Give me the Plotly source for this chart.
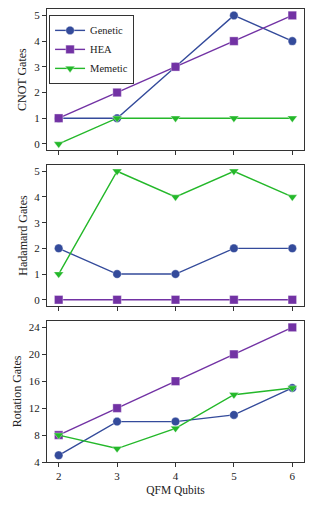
import plotly.graph_objects as go
from plotly.subplots import make_subplots

qubits = [2, 3, 4, 5, 6]
series_names = ["Genetic", "HEA", "Memetic"]

cnot_genetic = [1, 1, 3, 5, 4]
cnot_hea = [1, 2, 3, 4, 5]
cnot_memetic = [0, 1, 1, 1, 1]

had_genetic = [2, 1, 1, 2, 2]
had_hea = [0, 0, 0, 0, 0]
had_memetic = [1, 5, 4, 5, 4]

rot_genetic = [5, 10, 10, 11, 15]
rot_hea = [8, 12, 16, 20, 24]
rot_memetic = [8, 6, 9, 14, 15]

panel_titles = ["CNOT Gates", "Hadamard Gates", "Rotation Gates"]
x_title = "QFM Qubits"

colors = {"Genetic": "#344b9b", "HEA": "#7232a4", "Memetic": "#24b82a"}
symbols = {"Genetic": "circle", "HEA": "square", "Memetic": "triangle-down"}

data = [
    {"Genetic": cnot_genetic, "HEA": cnot_hea, "Memetic": cnot_memetic},
    {"Genetic": had_genetic, "HEA": had_hea, "Memetic": had_memetic},
    {"Genetic": rot_genetic, "HEA": rot_hea, "Memetic": rot_memetic},
]

FONT = "Liberation Serif"

fig = make_subplots(rows=3, cols=1, shared_xaxes=True, vertical_spacing=0.032)

for r, panel in enumerate(data, start=1):
    for name in series_names:
        fig.add_trace(
            go.Scatter(
                x=qubits, y=panel[name], mode="lines+markers", name=name,
                showlegend=(r == 1),
                line=dict(color=colors[name], width=1.4),
                marker=dict(symbol=symbols[name], size=8.5, color=colors[name],
                            line=dict(color="rgba(255,255,255,0.6)", width=0.6)),
                cliponaxis=False,
            ),
            row=r, col=1,
        )

axis_common = dict(
    showgrid=False, zeroline=False, showline=True, linecolor="#333333",
    linewidth=1.2, mirror=True, ticks="outside", ticklen=4, tickwidth=1,
    tickcolor="#333333", tickfont=dict(family=FONT, size=11, color="#222"),
    automargin=False,
)

for r in range(1, 4):
    fig.update_xaxes(range=[1.8, 6.2], tickvals=qubits, row=r, col=1, **axis_common)
fig.update_xaxes(title=dict(text=x_title, font=dict(family=FONT, size=11.5, color="#222"), standoff=4), row=3, col=1)

fig.update_yaxes(range=[-0.25, 5.25], tickvals=[0, 1, 2, 3, 4, 5], row=1, col=1, **axis_common)
fig.update_yaxes(range=[-0.25, 5.25], tickvals=[0, 1, 2, 3, 4, 5], row=2, col=1, **axis_common)
fig.update_yaxes(range=[4, 25], tickvals=[4, 8, 12, 16, 20, 24], row=3, col=1, **axis_common)
for r, t in enumerate(panel_titles, start=1):
    fig.update_yaxes(title=dict(text=t, font=dict(family=FONT, size=12, color="#222"), standoff=4), row=r, col=1)

# page body has an 8px margin; size the figure so the plot lands where the reference has it
fig.update_layout(
    width=298, height=491,
    margin=dict(l=39, r=2, t=1, b=37, autoexpand=False),
    paper_bgcolor="white", plot_bgcolor="white",
    font=dict(family=FONT, size=11, color="#222"),
    legend=dict(x=0.008, y=0.987, xanchor="left", yanchor="top",
                bgcolor="white", bordercolor="#333333", borderwidth=1,
                font=dict(family=FONT, size=10.5, color="#222"),
                tracegroupgap=0, itemwidth=30),
)

fig.write_html("out.html")
